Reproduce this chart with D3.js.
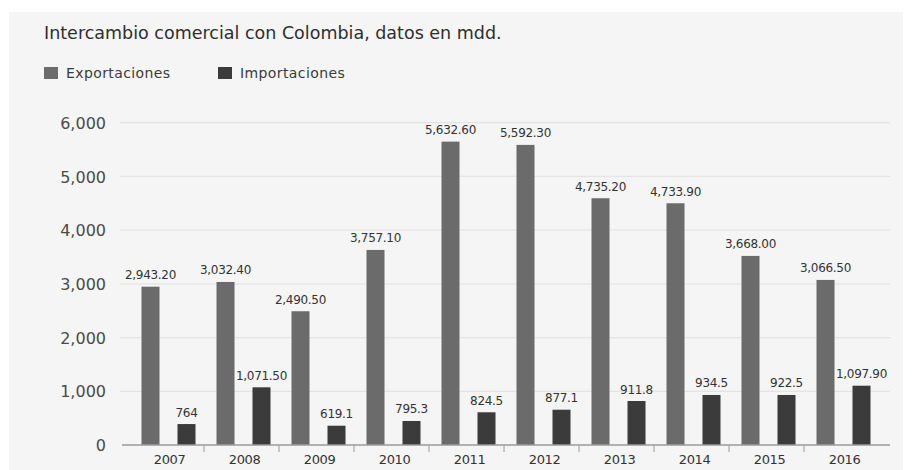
<!DOCTYPE html>
<html>
<head>
<meta charset="utf-8">
<script src="https://cdn.jsdelivr.net/npm/d3@7/dist/d3.min.js"></script>
<style>
  html, body { margin: 0; padding: 0; background: #ffffff; }
  svg { display: block; }
  text { font-family: "DejaVu Sans", sans-serif; }
</style>
</head>
<body>
<svg id="chart" width="912" height="470"></svg>
<script>
// ---- data ----
const years = ["2007","2008","2009","2010","2011","2012","2013","2014","2015","2016"];
const seriesNames = ["Exportaciones", "Importaciones"];
// bar heights as drawn in the picture
const exportaciones = [2947, 3035, 2490, 3631, 5648, 5587, 4594, 4500, 3520, 3073];
const importaciones = [390, 1074, 359, 447, 609, 657, 819, 931, 931, 1104];
// printed value labels
const exportLabels = ["2,943.20","3,032.40","2,490.50","3,757.10","5,632.60","5,592.30","4,735.20","4,733.90","3,668.00","3,066.50"];
const importLabels = ["764","1,071.50","619.1","795.3","824.5","877.1","911.8","934.5","922.5","1,097.90"];
const yTicks = [0, 1000, 2000, 3000, 4000, 5000, 6000];
const titleText = "Intercambio comercial con Colombia, datos en mdd.";
const colors = ["#6b6b6b", "#3b3b3b"];

const svg = d3.select("#chart");
// panel background
svg.append("rect").attr("x", 9).attr("y", 12).attr("width", 894).attr("height", 458).attr("fill", "#f5f5f5");

const x0 = d3.scaleBand().domain(years).range([129, 879]).paddingInner(0).paddingOuter(0);
const x1 = d3.scaleBand().domain(seriesNames).range([12.5, 66.5]).paddingInner(0.5).paddingOuter(0);
const y = d3.scaleLinear().domain([0, 6000]).range([445, 122.7]);

// gridlines
svg.append("g").selectAll("line").data(yTicks.filter(d => d > 0)).join("line")
  .attr("x1", 120).attr("x2", 890)
  .attr("y1", d => y(d)).attr("y2", d => y(d))
  .attr("stroke", "#e4e4e4").attr("stroke-width", 1.2);

// y axis labels
const yAxis = d3.axisLeft(y).tickValues(yTicks).tickSize(0).tickPadding(0)
  .tickFormat(d3.format(","));
const gy = svg.append("g").attr("transform", "translate(106,0)").call(yAxis);
gy.select(".domain").remove();
gy.selectAll("text").attr("fill", "#4a4a4a").style("font-size", "16px").attr("dy", "0.35em");

// bars
const groups = svg.append("g").selectAll("g").data(years).join("g")
  .attr("transform", d => `translate(${x0(d)},0)`);
const rows = years.map((yr, i) => [
  {key: seriesNames[0], v: exportaciones[i], label: exportLabels[i]},
  {key: seriesNames[1], v: importaciones[i], label: importLabels[i]}
]);
groups.selectAll("rect").data((d, i) => rows[i]).join("rect")
  .attr("x", d => x1(d.key)).attr("width", x1.bandwidth())
  .attr("y", d => y(d.v)).attr("height", d => y(0) - y(d.v))
  .attr("fill", (d, j) => colors[j]);
groups.selectAll("text").data((d, i) => rows[i]).join("text")
  .attr("x", d => x1(d.key) + x1.bandwidth() / 2)
  .attr("y", d => y(d.v) - 7.5)
  .attr("text-anchor", "middle")
  .attr("fill", "#333")
  .style("font-size", "12px")
  .style("letter-spacing", "-0.3px")
  .text(d => d.label);

// x axis
const xAxis = d3.axisBottom(x0).tickSize(0).tickPadding(10);
const gx = svg.append("g").attr("transform", `translate(3,${y(0)})`).call(xAxis);
gx.select(".domain").remove();
gx.selectAll("text").attr("fill", "#333").style("font-size", "13px").style("letter-spacing", "-0.4px");
svg.append("line").attr("x1", 122).attr("x2", 890).attr("y1", y(0)).attr("y2", y(0))
  .attr("stroke", "#9a9a9a").attr("stroke-width", 1.5);
// separator ticks between categories
svg.append("g").selectAll("line").data(years.slice(1)).join("line")
  .attr("x1", d => x0(d)).attr("x2", d => x0(d))
  .attr("y1", y(0)).attr("y2", y(0) + 7)
  .attr("stroke", "#9a9a9a").attr("stroke-width", 1);

// title
svg.append("text").attr("x", 44).attr("y", 39).attr("fill", "#2e2e2e")
  .style("font-size", "17.5px").text(titleText);

// legend
const leg = svg.append("g").selectAll("g").data(seriesNames).join("g")
  .attr("transform", (d, i) => `translate(${[44, 218][i]},62)`);
leg.append("rect").attr("width", 14).attr("height", 12).attr("y", 5).attr("fill", (d, i) => colors[i]);
leg.append("text").attr("x", 22).attr("y", 16).attr("fill", "#3a3a3a")
  .style("font-size", "14px").style("letter-spacing", "0.4px").text(d => d);
</script>
</body>
</html>
